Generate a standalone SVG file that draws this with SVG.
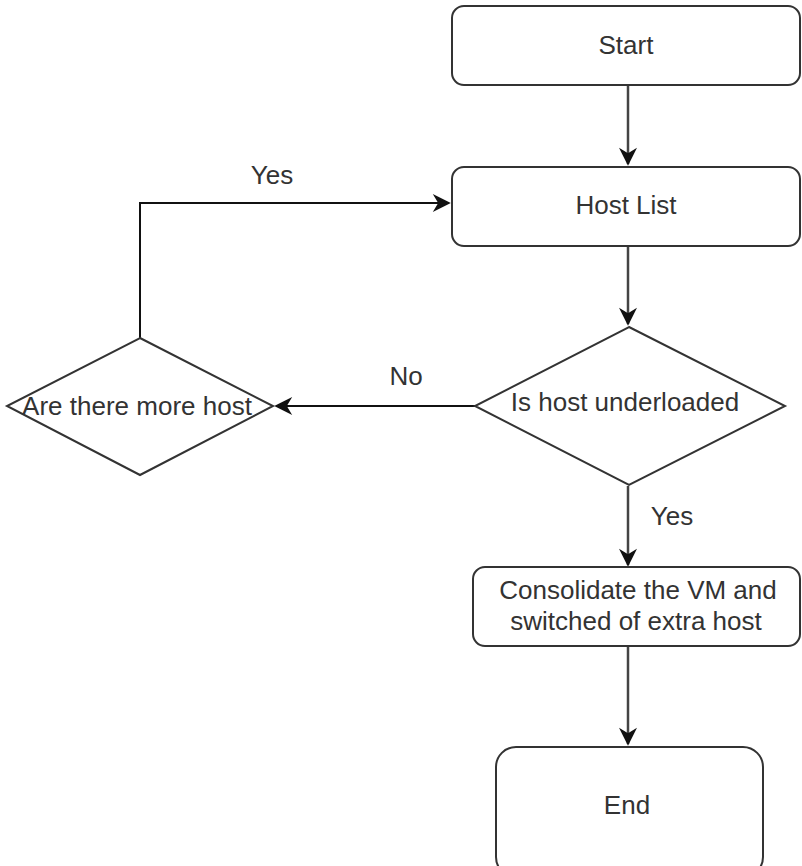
<svg xmlns="http://www.w3.org/2000/svg" width="802" height="866" viewBox="0 0 802 866">
<style>
.box{fill:#fff;stroke:#333;stroke-width:2}
.t{font-family:"Liberation Sans",Arial,sans-serif;font-size:26px;fill:#333;text-anchor:middle}
.c{fill:none;stroke:#444;stroke-width:2.5}
.k{fill:none;stroke:#111;stroke-width:2}
</style>
<defs>
<marker id="ahb" viewBox="0 0 10 10" refX="9" refY="5" markerWidth="22" markerHeight="18" markerUnits="userSpaceOnUse" orient="auto">
<path d="M0,0 L10,5 L0,10 L3,5 Z" fill="#111"/>
</marker>
</defs>
<rect width="802" height="866" fill="#fff"/>
<g id="connectors">
<path class="c" d="M628,86 V164" marker-end="url(#ahb)"/>
<path class="c" d="M628,247 V324" marker-end="url(#ahb)"/>
<path class="k" d="M140,338 V203 H449" marker-end="url(#ahb)"/>
<path class="k" d="M475,406 H276" marker-end="url(#ahb)"/>
<path class="c" d="M628,486 V565" marker-end="url(#ahb)"/>
<path class="c" d="M628,647 V744" marker-end="url(#ahb)"/>
<text class="t" x="272" y="184">Yes</text>
<text class="t" x="406" y="385">No</text>
<text class="t" x="672" y="525">Yes</text>
</g>
<g id="start">
<rect class="box" x="452" y="6" width="348" height="79" rx="12"/>
<text class="t" x="626" y="54">Start</text>
</g>
<g id="hostlist">
<rect class="box" x="452" y="167" width="348" height="79" rx="12"/>
<text class="t" x="626" y="214">Host List</text>
</g>
<g id="underloaded">
<polygon class="box" points="629,327 785,406 629,485 475,406"/>
<text class="t" x="625" y="411">Is host underloaded</text>
</g>
<g id="morehost">
<polygon class="box" points="140,338 273,406 140,475 7,406"/>
<text class="t" x="137" y="415">Are there more host</text>
</g>
<g id="consolidate">
<rect class="box" x="473" y="567" width="327" height="79" rx="12"/>
<text class="t" x="638" y="599">Consolidate the VM and</text>
<text class="t" x="636" y="630">switched of extra host</text>
</g>
<g id="end">
<rect class="box" x="496" y="747" width="267" height="130" rx="20"/>
<text class="t" x="627" y="814">End</text>
</g>
</svg>
